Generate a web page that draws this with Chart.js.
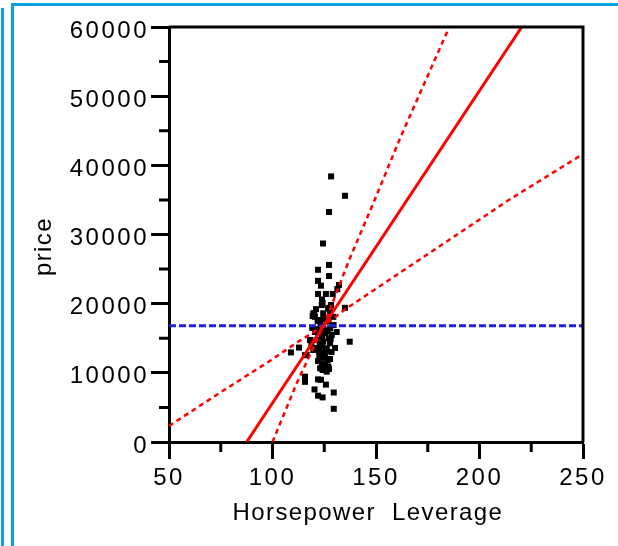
<!DOCTYPE html>
<html>
<head>
<meta charset="utf-8">
<script src="https://cdn.jsdelivr.net/npm/chart.js@4.4.1/dist/chart.umd.min.js"></script>
<style>
  body { margin: 0; background: #fff; }
  #wrap { position: relative; width: 618px; height: 546px; overflow: hidden; }
  #myChart { position: absolute; left: 0; top: 0; }
  .edge { position: absolute; background: #0aa2dc; }
</style>
</head>
<body>
<div id="wrap">
  <canvas id="myChart" width="618" height="546"></canvas>
  <div class="edge" style="left:1px;top:8px;width:3px;height:538px"></div>
  <div class="edge" style="left:11px;top:3px;width:3px;height:543px"></div>
  <div class="edge" style="left:11px;top:3px;width:607px;height:3px"></div>
</div>
<script>
// leverage plot data
var hpValues = [128.3, 135.0, 127.3, 124.4, 127.3, 122.0, 127.3, 122.0, 123.4, 132.1,
                131.3, 122.0, 125.8, 129.1, 124.2, 128.3, 135.0, 120.2, 119.4, 137.3,
                108.9, 112.8, 115.7, 115.7, 115.7, 122.0, 123.4, 125.8, 120.3, 122.0,
                124.2, 129.6, 129.6, 127.3, 124.2,
                123.8, 119.7, 120.5, 124.5, 127.8, 123.0, 127.0, 129.4, 124.5, 127.8,
                122.1, 125.4, 128.6, 118.1, 121.3, 124.5, 127.8, 123.8, 126.2, 119.7,
                116.5, 122.6, 125.4, 123.8, 127.0, 123.0, 126.2,
                121.5, 126.5, 123.2, 125.8, 121.0, 126.8, 124.0, 127.2, 122.5, 128.5,
                120.5, 129.5, 119.2, 124.8, 127.8, 122.0, 125.5, 131.0, 130.2, 118.8,
                121.8, 124.6, 126.9, 122.8, 125.9, 128.1, 123.6, 121.1, 126.6, 124.1,
                127.5, 123.9];
var priceValues = [38400, 35600, 33250, 28700, 25600, 24900, 24000, 23300, 22600, 22700,
                   22100, 21400, 21400, 21400, 20100, 19800, 19400, 18600, 18200, 14500,
                   12950, 13650, 12550, 9450, 8700, 9050, 9000, 8300, 7600, 6700,
                   6450, 7150, 4800, 10550, 10400,
                   19800, 18600, 18100, 18600, 18850, 17640, 17400, 18100, 16670, 16430,
                   15710, 15710, 15470, 14750, 14750, 14500, 14270, 13780, 13540, 13300,
                   12580, 12580, 12340, 11380, 10890, 10650, 10170,
                   16300, 16000, 17100, 17900, 19200, 19300, 15200, 15000, 13100, 13000,
                   15900, 16900, 16500, 12900, 12000, 11700, 11100, 15900, 13600, 14000,
                   17500, 17800, 16200, 14200, 13200, 14900, 15900, 13600, 11800, 12200,
                   19400, 20600];

// fitted line and confidence curves
var fitHp = [87.5, 220.4];
var fitPrice = [0, 60000];
var upperHp = [100.0, 111.7, 124.7, 137.0, 149.5, 161.6, 185.4];
var upperPrice = [0, 8500, 16815, 26300, 35100, 43900, 60000];
var lowerHp = [50, 74.6, 99.4, 111.7, 124.7, 135.8, 214.7, 250];
var lowerPrice = [2313, 7130, 11855, 14360, 16815, 19330, 35090, 41640];
var meanHp = [50, 250];
var meanPrice = [16815, 16815];

var xTicks = [50, 100, 150, 200, 250];
var yTicks = [0, 10000, 20000, 30000, 40000, 50000, 60000];

function pairs(xs, ys) {
  var out = [];
  for (var i = 0; i < xs.length; i++) {
    out.push({x: xs[i], y: ys[i]});
  }
  return out;
}

// short ticks half way between the labelled ones
var minorTicks = {
  id: 'minorTicks',
  afterDraw: function(chart) {
    var ctx = chart.ctx;
    var xs = chart.scales.x, ys = chart.scales.y;
    var area = chart.chartArea;
    ctx.save();
    ctx.strokeStyle = '#000';
    ctx.lineWidth = 3;
    ctx.beginPath();
    for (var i = 0; i < xTicks.length - 1; i++) {
      var px = xs.getPixelForValue((xTicks[i] + xTicks[i + 1]) / 2);
      ctx.moveTo(px, area.bottom);
      ctx.lineTo(px, area.bottom + 10);
    }
    for (var j = 0; j < yTicks.length - 1; j++) {
      var py = ys.getPixelForValue((yTicks[j] + yTicks[j + 1]) / 2);
      ctx.moveTo(area.left, py);
      ctx.lineTo(area.left - 10, py);
    }
    ctx.stroke();
    // top and right edges of the frame
    ctx.beginPath();
    ctx.moveTo(area.left, area.top);
    ctx.lineTo(area.right, area.top);
    ctx.lineTo(area.right, area.bottom);
    ctx.stroke();
    ctx.restore();
  }
};

// titles get drawn before the datasets, tick labels (z: 1) after them
var spacing = {
  id: 'spacing',
  beforeDraw: function(chart) {
    chart.ctx.letterSpacing = '1.4px';
  },
  afterDatasetsDraw: function(chart) {
    chart.ctx.letterSpacing = '2.5px';
  }
};

var black = '#000';
var font = {family: '"Liberation Sans", Arial, sans-serif', size: 24};

new Chart(document.getElementById('myChart'), {
  type: 'scatter',
  data: {
    datasets: [
      {
        label: 'mean',
        data: pairs(meanHp, meanPrice),
        showLine: true,
        borderColor: '#2020e0',
        borderWidth: 3,
        borderDash: [7, 3],
        pointRadius: 0,
        order: 1
      },
      {
        label: 'fit',
        data: pairs(fitHp, fitPrice),
        showLine: true,
        borderColor: '#ff0000',
        borderWidth: 3,
        pointRadius: 0,
        order: 0
      },
      {
        label: 'upper',
        data: pairs(upperHp, upperPrice),
        showLine: true,
        borderColor: '#ff0000',
        borderWidth: 2.5,
        borderDash: [5, 4],
        pointRadius: 0,
        order: 0
      },
      {
        label: 'lower',
        data: pairs(lowerHp, lowerPrice),
        showLine: true,
        borderColor: '#ff0000',
        borderWidth: 2.5,
        borderDash: [5, 4],
        pointRadius: 0,
        order: 0
      },
      {
        label: 'price',
        data: pairs(hpValues, priceValues),
        pointStyle: 'rect',
        pointRadius: 4.25,
        borderWidth: 0,
        backgroundColor: black,
        order: 2
      }
    ]
  },
  options: {
    responsive: false,
    animation: false,
    layout: { padding: {left: 0, top: 27, right: 35, bottom: 0} },
    plugins: {
      legend: { display: false },
      tooltip: { enabled: false }
    },
    scales: {
      x: {
        type: 'linear',
        min: 50,
        max: 250,
        afterFit: function(s) { s.height = 104; },
        afterBuildTicks: function(s) { s.ticks = xTicks.map(function(v) { return {value: v}; }); },
        grid: { drawOnChartArea: false, drawTicks: true, tickLength: 17, tickWidth: 3, tickColor: black },
        border: { display: true, width: 3, color: black },
        ticks: { color: black, font: font, padding: 5, maxRotation: 0, z: 1 },
        title: { display: true, text: 'Horsepower  Leverage  ', color: black,
                 font: font, padding: 18 }
      },
      y: {
        type: 'linear',
        min: 0,
        max: 60000,
        afterFit: function(s) { s.width = 169; },
        afterBuildTicks: function(s) { s.ticks = yTicks.map(function(v) { return {value: v}; }); },
        grid: { drawOnChartArea: false, drawTicks: true, tickLength: 18, tickWidth: 3, tickColor: black },
        border: { display: true, width: 3, color: black },
        ticks: { color: black, font: font, padding: 2, labelOffset: 4, z: 1,
                 callback: function(v) { return String(v); } },
        title: { display: true, text: 'price   ', color: black,
                 font: font, padding: 30 }
      }
    }
  },
  plugins: [minorTicks, spacing]
});
</script>
</body>
</html>
